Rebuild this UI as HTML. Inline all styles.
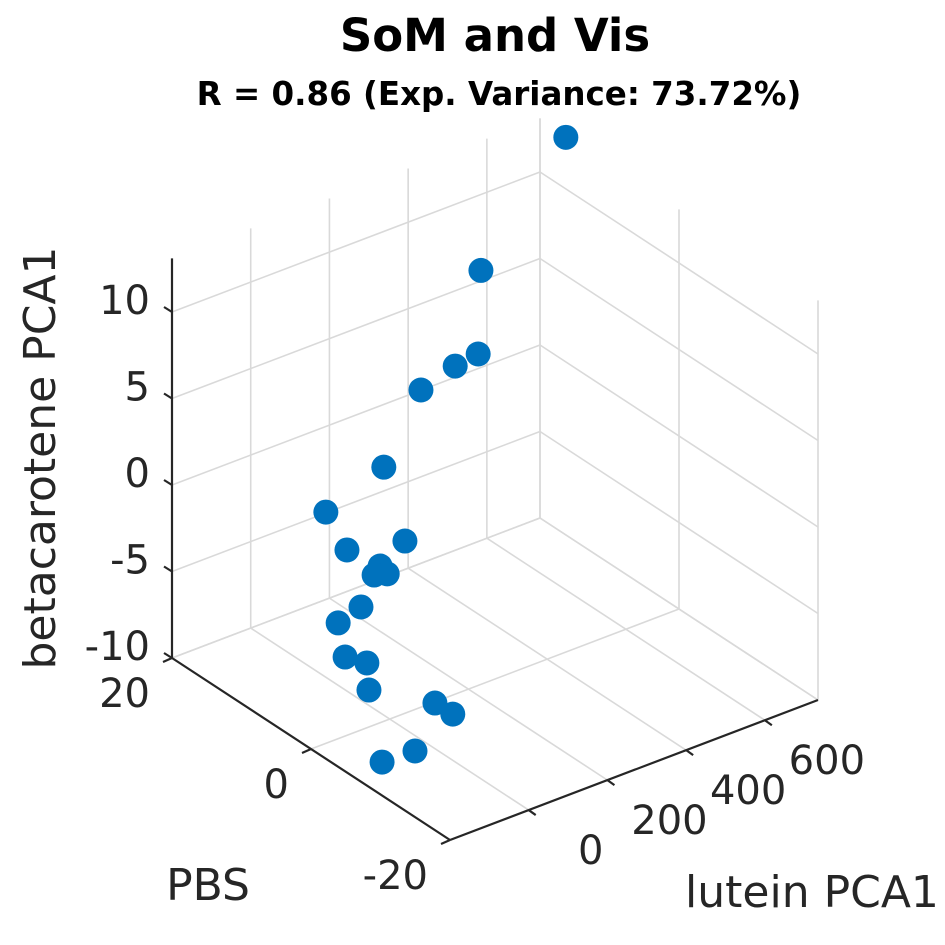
<!DOCTYPE html>
<html><head><meta charset="utf-8"><style>
html,body{margin:0;padding:0;background:#fff;}
svg{display:block;font-family:"DejaVu Sans","Liberation Sans",sans-serif;}
</style></head><body>
<svg id="chart" width="945" height="945" viewBox="0 0 945 945" xmlns="http://www.w3.org/2000/svg">
<text x="495" y="51" text-anchor="middle" font-weight="bold" font-size="45" fill="#000">SoM and Vis</text>
<text x="499" y="105" text-anchor="middle" font-weight="bold" font-size="32.5" fill="#000">R = 0.86 (Exp. Variance: 73.72%)</text>
<g id="grid"></g>
<g id="axes"></g>
<g id="points"></g>
<text transform="translate(55,458) rotate(-90)" text-anchor="middle" font-size="44" fill="#262626">betacarotene PCA1</text>
<text x="208" y="900" text-anchor="middle" font-size="44" fill="#262626">PBS</text>
<text x="812" y="907" text-anchor="middle" font-size="44" fill="#262626">lutein PCA1</text>
</svg>
<script>
const luteinVals = [730, 373, 366, 237, 150, -15, -21, -32, -38, -95, -75, -77, -73, -131, -184, -164, -194, -97, -87, -183, -196];
const pbsVals = [16, 8, 8, 4, 4, 0, 8, -4, 4, -4, -2, -4, 0, 0, -4, -6, -8, -12, -14, -14, -10];
const betaVals = [13.1, 10.6, 5.83, 7.3, 6.67, 4.69, 0.04, 1.62, -0.95, 0.72, -0.5, 0.11, -2.89, -3.31, -3.77, -3.76, -4.54, -5.08, -5.28, -6.58, -8.16];
const luteinTicks = [0, 200, 400, 600];
const luteinTickLabels = ["0", "200", "400", "600"];
const pbsTicks = [20, 0, -20];
const pbsTickLabels = ["20", "0", "-20"];
const zTicks = [10, 5, 0, -5, -10];
const zTickLabels = ["10", "5", "0", "-5", "-10"];

const LUT_MIN = -200, LUT_MAX = 735, PBS_MAX = 20, PBS_MIN = -20, Z_MIN = -10, Z_MAX = 13.1;
const O = [172, 658], UX = [368, -140], VX = [278, 182], ZPX = 17.3;
function proj(l, p, z) {
  const u = (l - LUT_MIN) / (LUT_MAX - LUT_MIN);
  const v = (PBS_MAX - p) / (PBS_MAX - PBS_MIN);
  return [O[0] + UX[0]*u + VX[0]*v, O[1] + UX[1]*u + VX[1]*v - ZPX*(z - Z_MIN)];
}
const NS = "http://www.w3.org/2000/svg";
function line(g, a, b, color, w, name) {
  const el = document.createElementNS(NS, "line");
  el.setAttribute("x1", a[0]); el.setAttribute("y1", a[1]);
  el.setAttribute("x2", b[0]); el.setAttribute("y2", b[1]);
  el.setAttribute("stroke", color); el.setAttribute("stroke-width", w);
  
  
  g.appendChild(el);
}
function text(g, x, y, s, anchor, name) {
  const el = document.createElementNS(NS, "text");
  el.setAttribute("x", x); el.setAttribute("y", y);
  el.setAttribute("text-anchor", anchor); el.setAttribute("font-size", "40");
  el.setAttribute("fill", "#262626"); el.textContent = s;
  
  
  g.appendChild(el);
}
const grid = document.getElementById("grid");
const GC = "#d9d9d9", GW = 1.6;
zTicks.forEach(z => {
  line(grid, proj(LUT_MIN, PBS_MAX, z), proj(LUT_MAX, PBS_MAX, z), GC, GW, "z-gridline");
  line(grid, proj(LUT_MAX, PBS_MAX, z), proj(LUT_MAX, PBS_MIN, z), GC, GW, "z-gridline");
});
luteinTicks.concat([LUT_MAX]).forEach(l => {
  line(grid, proj(l, PBS_MAX, Z_MIN), proj(l, PBS_MAX, Z_MAX), GC, GW, "lutein-gridline");
  if (l !== LUT_MAX) line(grid, proj(l, PBS_MAX, Z_MIN), proj(l, PBS_MIN, Z_MIN), GC, GW, "lutein-floor-gridline");
});
line(grid, proj(LUT_MAX, PBS_MAX, Z_MIN), proj(LUT_MAX, PBS_MIN, Z_MIN), GC, GW, "floor-edge");
pbsTicks.forEach(p => {
  line(grid, proj(LUT_MAX, p, Z_MIN), proj(LUT_MAX, p, Z_MAX), GC, GW, "pbs-gridline");
  line(grid, proj(LUT_MIN, p, Z_MIN), proj(LUT_MAX, p, Z_MIN), GC, GW, "pbs-floor-gridline");
});
const axes = document.getElementById("axes");
const AC = "#262626", AW = 2.2;
line(axes, proj(LUT_MIN, PBS_MAX, Z_MIN), proj(LUT_MIN, PBS_MAX, Z_MAX), AC, AW, "z-axis-line");
zTicks.forEach((z, i) => {
  const p = proj(LUT_MIN, PBS_MAX, z);
  line(axes, p, [p[0] - 8, p[1] - 5], AC, AW, "z-tick");
  text(axes, 150, p[1] + 2, zTickLabels[i], "end", "z-tick-label");
});
line(axes, proj(LUT_MIN, PBS_MAX, Z_MIN), proj(LUT_MIN, PBS_MIN, Z_MIN), AC, AW, "pbs-axis-line");
pbsTicks.forEach((pv, i) => {
  const p = proj(LUT_MIN, pv, Z_MIN);
  line(axes, p, [p[0] - 9, p[1] + 4], AC, AW, "pbs-tick");
  text(axes, p[0] - 22, p[1] + 49, pbsTickLabels[i], "end", "pbs-tick-label");
});
line(axes, proj(LUT_MIN, PBS_MIN, Z_MIN), proj(LUT_MAX, PBS_MIN, Z_MIN), AC, AW, "lutein-axis-line");
luteinTicks.forEach((l, i) => {
  const p = proj(l, PBS_MIN, Z_MIN);
  line(axes, p, [p[0] + 7, p[1] + 5], AC, AW, "lutein-tick");
  text(axes, p[0] + 62, p[1] + 54, luteinTickLabels[i], "middle", "lutein-tick-label");
});
const pts = document.getElementById("points");
luteinVals.forEach((l, i) => {
  const p = proj(l, pbsVals[i], betaVals[i]);
  const c = document.createElementNS(NS, "circle");
  c.setAttribute("cx", p[0]); c.setAttribute("cy", p[1]); c.setAttribute("r", 12.5);
  c.setAttribute("fill", "#0072BD");
  
  
  pts.appendChild(c);
});
</script>
</body></html>
